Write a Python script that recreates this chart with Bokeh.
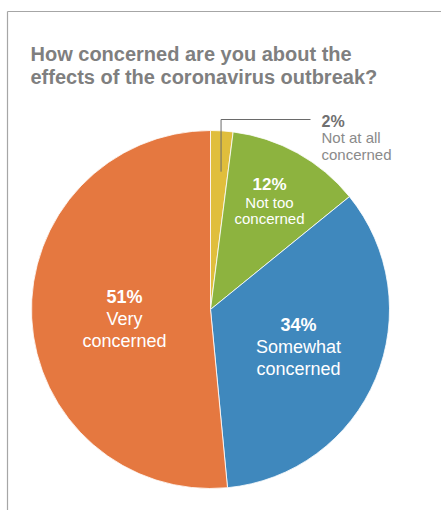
import math
from bokeh.plotting import figure
from bokeh.models import ColumnDataSource, Range1d
from bokeh.core.properties import value
from bokeh.embed import file_html
from bokeh.resources import INLINE

# ---- data ----
categories = ["Not at all concerned", "Not too concerned", "Somewhat concerned", "Very concerned"]
percents = [2, 12, 34, 51]
pct_labels = ["2%", "12%", "34%", "51%"]
name_lines = [["Not at all", "concerned"], ["Not too", "concerned"],
              ["Somewhat", "concerned"], ["Very", "concerned"]]
colors = ["#E0BE3C", "#8DB33F", "#3F88BD", "#E57840"]
title_lines = ["How concerned are you about the", "effects of the coronavirus outbreak?"]

# ---- layout (pixel space, y down) ----
W, H = 441, 510
CX, CY, R = 210, 309, 179
FONT = "Liberation Sans"

# label layout per slice
label_layout = [
    dict(x=321, ys=[121, 137, 154], align="left", ps="16px", ls="15px", pc="#707070", lc="#8a8a8a"),
    dict(x=269, ys=[184, 201.5, 218], align="center", ps="17px", ls="15px", pc="white", lc="white"),
    dict(x=298, ys=[324, 346, 368], align="center", ps="18px", ls="18px", pc="white", lc="white"),
    dict(x=124, ys=[296, 318, 340], align="center", ps="18px", ls="18px", pc="white", lc="white"),
]


def Y(py):
    return H - py


p = figure(width=W, height=H, output_backend="svg", toolbar_location=None,
           x_range=Range1d(0, W), y_range=Range1d(0, H),
           x_axis_type=None, y_axis_type=None, min_border=0,
           outline_line_color=None, background_fill_color="white",
           border_fill_color="white")
p.grid.visible = False

# frame lines
p.line([7, 7], [Y(11), Y(510)], line_color="#a6a6a6", line_width=1.2)
p.line([7, 441], [Y(11), Y(11)], line_color="#a6a6a6", line_width=1.2)

# wedges
total = sum(percents)
starts, ends = [], []
cum = 0
for v in percents:
    starts.append(math.pi / 2 - 2 * math.pi * cum / total)
    cum += v
    ends.append(math.pi / 2 - 2 * math.pi * cum / total)

src = ColumnDataSource(dict(cat=categories, start=starts, end=ends, color=colors,
                            x=[CX] * 4, y=[Y(CY)] * 4))
p.wedge(x="x", y="y", radius=R, radius_units="screen", start_angle="start", end_angle="end",
        direction="clock", fill_color="color", line_color="white", line_width=0.8, source=src)

# leader line for the small slice
mid0 = math.pi / 2 - 2 * math.pi * (percents[0] / 2) / total
lx = CX + R * 0.93 * math.cos(mid0)
p.line([lx, lx, 310], [Y(CY - R * 0.77), Y(119), Y(119)], line_color="#6a6a6a", line_width=1)

# title
for i, t in enumerate(title_lines):
    p.text(x=[30], y=[Y(53 + 23 * i)], text=[t], text_font=value(FONT), text_font_style="bold",
           text_font_size="20px", text_color="#7f7f7f", text_baseline="alphabetic",
           text_align="left")

# labels
for k in range(4):
    L = label_layout[k]
    p.text(x=[L["x"]], y=[Y(L["ys"][0])], text=[pct_labels[k]], text_font=value(FONT),
           text_font_style="bold", text_font_size=L["ps"], text_color=L["pc"],
           text_baseline="alphabetic", text_align=L["align"])
    for j, ln in enumerate(name_lines[k]):
        p.text(x=[L["x"]], y=[Y(L["ys"][j + 1])], text=[ln], text_font=value(FONT),
               text_font_size=L["ls"], text_color=L["lc"],
               text_baseline="alphabetic", text_align=L["align"])

open("out.html", "w").write(file_html(p, INLINE))
